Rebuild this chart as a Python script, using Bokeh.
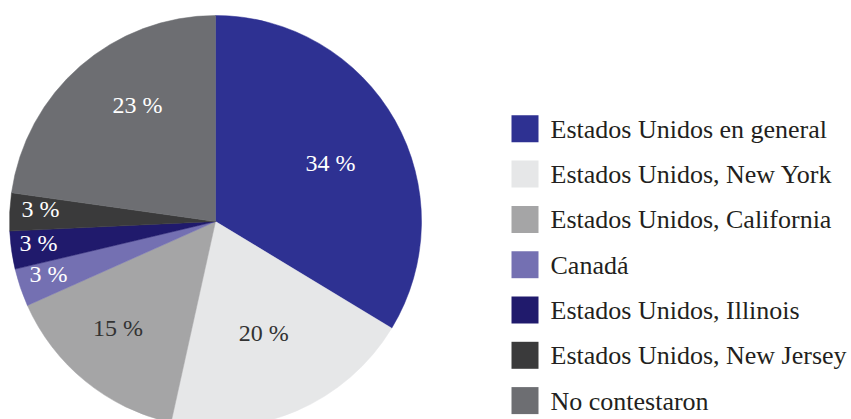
import numpy as np
from bokeh.plotting import figure
from bokeh.models import Range1d, ColumnDataSource
from bokeh.core.properties import value
from bokeh.embed import file_html
from bokeh.resources import INLINE

# ---- data ----
categories = [
    "Estados Unidos en general",
    "Estados Unidos, New York",
    "Estados Unidos, California",
    "Canadá",
    "Estados Unidos, Illinois",
    "Estados Unidos, New Jersey",
    "No contestaron",
]
shares = [34, 20, 15, 3, 3, 3, 23]
share_labels = ["34 %", "20 %", "15 %", "3 %", "3 %", "3 %", "23 %"]

# ---- styles ----
colors = ["#2E3192", "#E6E7E8", "#A5A5A6", "#7470B2", "#201A6C", "#3A3A3B", "#6D6E72"]
label_colors = ["#FFFFFF", "#333333", "#333333", "#FFFFFF", "#FFFFFF", "#FFFFFF", "#FFFFFF"]
label_radius = [0.625, 0.59, 0.70, 0.85, 0.865, 0.852, 0.68]   # fraction of radius
label_nudge_deg = [-2.6, 0.2, -3.3, -1.2, -1.2, -1.5, -7.2]   # angular nudge

# ---- layout (pixels) ----
W, H = 851, 419
cx, cy = 215, 221           # pie centre in picture pixels
R = 206
FONT = "Liberation Serif"

vals = np.array(shares, dtype=float)
frac = vals / vals.sum()
cum = np.concatenate([[0], np.cumsum(frac)])
start = np.pi / 2 - 2 * np.pi * cum[:-1]
end = np.pi / 2 - 2 * np.pi * cum[1:]
mid = (start + end) / 2 + np.radians(label_nudge_deg)
rr = R * np.array(label_radius)
lx = rr * np.cos(mid)
ly = rr * np.sin(mid)

pie = ColumnDataSource(dict(start=start, end=end, color=colors, cat=categories))
lab = ColumnDataSource(dict(x=lx, y=ly, text=share_labels, color=label_colors))

p = figure(width=W, height=H, output_backend="svg", toolbar_location=None,
           x_range=Range1d(-cx, W - cx), y_range=Range1d(cy - H, cy),
           min_border=0)
p.axis.visible = False
p.grid.visible = False
p.outline_line_color = None
p.background_fill_color = "white"
p.border_fill_color = "white"

p.wedge(x=0, y=0, radius=R, start_angle="start", end_angle="end", direction="clock",
        fill_color="color", line_color="color", line_width=0.5, source=pie)
p.text(x="x", y="y", text="text", text_color="color", source=lab,
       text_font=value(FONT), text_font_size="24px",
       text_align="center", text_baseline="middle")

# ---- legend drawn manually ----
n = len(categories)
row_gap = 45.3
sq_x, sq_y0, sq = 524.5, 128.3, 27
tx, ty0 = 550, 128.7
rows = np.arange(n)
leg = ColumnDataSource(dict(
    x=np.full(n, sq_x - cx), y=cy - (sq_y0 + rows * row_gap), color=colors,
    tx=np.full(n, tx - cx), ty=cy - (ty0 + rows * row_gap), text=categories))
p.rect(x="x", y="y", width=sq, height=sq, width_units="screen", height_units="screen",
       fill_color="color", line_color=None, source=leg)
p.text(x="tx", y="ty", text="text", source=leg, text_color="#231F20",
       text_font=value(FONT), text_font_size="26px",
       text_align="left", text_baseline="alphabetic")

open("out.html", "w").write(file_html(p, INLINE))
